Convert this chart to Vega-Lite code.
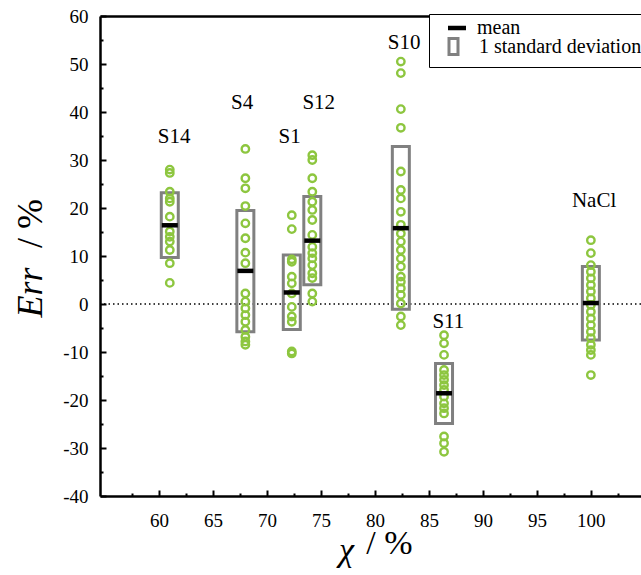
{
  "$schema": "https://vega.github.io/schema/vega-lite/v6.json",
  "width": 541,
  "height": 480,
  "autosize": {"type": "none"},
  "padding": {"left": 100, "top": 16, "right": 0, "bottom": 79},
  "background": "white",
  "config": {
    "view": {"stroke": null},
    "font": "Liberation Serif",
    "axis": {
      "labelFont": "Liberation Serif",
      "titleFont": "Liberation Serif",
      "grid": false,
      "domainColor": "black",
      "tickColor": "black",
      "labelColor": "black",
      "titleColor": "black",
      "domainWidth": 2.5,
      "tickWidth": 2
    },
    "legend": {
      "labelFont": "Liberation Serif",
      "labelFontSize": 20,
      "labelColor": "black",
      "labelLimit": 0,
      "titleFont": "Liberation Serif"
    }
  },
  "datasets": {
    "pts": [
      {"group": "S14", "chi": 61, "err": 28.0}, {"group": "S14", "chi": 61, "err": 27.3}, {"group": "S14", "chi": 61, "err": 23.4}, {"group": "S14", "chi": 61, "err": 22.0}, {"group": "S14", "chi": 61, "err": 21.3}, {"group": "S14", "chi": 61, "err": 18.2}, {"group": "S14", "chi": 61, "err": 15.1}, {"group": "S14", "chi": 61, "err": 14.0}, {"group": "S14", "chi": 61, "err": 13.0}, {"group": "S14", "chi": 61, "err": 11.25}, {"group": "S14", "chi": 61, "err": 8.5}, {"group": "S14", "chi": 61, "err": 4.4},
      {"group": "S4", "chi": 68, "err": 32.3}, {"group": "S4", "chi": 68, "err": 26.2}, {"group": "S4", "chi": 68, "err": 24.1}, {"group": "S4", "chi": 68, "err": 20.4}, {"group": "S4", "chi": 68, "err": 16.8}, {"group": "S4", "chi": 68, "err": 13.7}, {"group": "S4", "chi": 68, "err": 10.7}, {"group": "S4", "chi": 68, "err": 8.5}, {"group": "S4", "chi": 68, "err": 2.2}, {"group": "S4", "chi": 68, "err": 0.5}, {"group": "S4", "chi": 68, "err": -0.9}, {"group": "S4", "chi": 68, "err": -2.3}, {"group": "S4", "chi": 68, "err": -3.7}, {"group": "S4", "chi": 68, "err": -5.4}, {"group": "S4", "chi": 68, "err": -6.8}, {"group": "S4", "chi": 68, "err": -7.8}, {"group": "S4", "chi": 68, "err": -8.5},
      {"group": "S1", "chi": 72.3, "err": 18.5}, {"group": "S1", "chi": 72.3, "err": 15.6}, {"group": "S1", "chi": 72.3, "err": 9.3}, {"group": "S1", "chi": 72.3, "err": 8.8}, {"group": "S1", "chi": 72.3, "err": 5.7}, {"group": "S1", "chi": 72.3, "err": 4.3}, {"group": "S1", "chi": 72.3, "err": 2.2}, {"group": "S1", "chi": 72.3, "err": -0.6}, {"group": "S1", "chi": 72.3, "err": -2.6}, {"group": "S1", "chi": 72.3, "err": -3.7}, {"group": "S1", "chi": 72.3, "err": -9.9}, {"group": "S1", "chi": 72.3, "err": -10.3},
      {"group": "S12", "chi": 74.2, "err": 31.0}, {"group": "S12", "chi": 74.2, "err": 30.0}, {"group": "S12", "chi": 74.2, "err": 26.2}, {"group": "S12", "chi": 74.2, "err": 23.4}, {"group": "S12", "chi": 74.2, "err": 21.3}, {"group": "S12", "chi": 74.2, "err": 19.6}, {"group": "S12", "chi": 74.2, "err": 17.5}, {"group": "S12", "chi": 74.2, "err": 14.4}, {"group": "S12", "chi": 74.2, "err": 11.9}, {"group": "S12", "chi": 74.2, "err": 10.6}, {"group": "S12", "chi": 74.2, "err": 9.5}, {"group": "S12", "chi": 74.2, "err": 8.1}, {"group": "S12", "chi": 74.2, "err": 6.4}, {"group": "S12", "chi": 74.2, "err": 5.4}, {"group": "S12", "chi": 74.2, "err": 2.2}, {"group": "S12", "chi": 74.2, "err": 0.5},
      {"group": "S10", "chi": 82.4, "err": 50.5}, {"group": "S10", "chi": 82.4, "err": 48.1}, {"group": "S10", "chi": 82.4, "err": 40.6}, {"group": "S10", "chi": 82.4, "err": 36.7}, {"group": "S10", "chi": 82.4, "err": 27.6}, {"group": "S10", "chi": 82.4, "err": 23.75}, {"group": "S10", "chi": 82.4, "err": 22.0}, {"group": "S10", "chi": 82.4, "err": 19.2}, {"group": "S10", "chi": 82.4, "err": 16.5}, {"group": "S10", "chi": 82.4, "err": 14.7}, {"group": "S10", "chi": 82.4, "err": 13.0}, {"group": "S10", "chi": 82.4, "err": 11.25}, {"group": "S10", "chi": 82.4, "err": 9.5}, {"group": "S10", "chi": 82.4, "err": 7.8}, {"group": "S10", "chi": 82.4, "err": 5.7}, {"group": "S10", "chi": 82.4, "err": 4.65}, {"group": "S10", "chi": 82.4, "err": 3.3}, {"group": "S10", "chi": 82.4, "err": 1.9}, {"group": "S10", "chi": 82.4, "err": 0.1}, {"group": "S10", "chi": 82.4, "err": -2.6}, {"group": "S10", "chi": 82.4, "err": -4.4},
      {"group": "S11", "chi": 86.4, "err": -6.5}, {"group": "S11", "chi": 86.4, "err": -8.2}, {"group": "S11", "chi": 86.4, "err": -10.6}, {"group": "S11", "chi": 86.4, "err": -13.75}, {"group": "S11", "chi": 86.4, "err": -14.8}, {"group": "S11", "chi": 86.4, "err": -15.8}, {"group": "S11", "chi": 86.4, "err": -16.9}, {"group": "S11", "chi": 86.4, "err": -17.9}, {"group": "S11", "chi": 86.4, "err": -19.3}, {"group": "S11", "chi": 86.4, "err": -20.7}, {"group": "S11", "chi": 86.4, "err": -21.7}, {"group": "S11", "chi": 86.4, "err": -22.8}, {"group": "S11", "chi": 86.4, "err": -27.6}, {"group": "S11", "chi": 86.4, "err": -29.0}, {"group": "S11", "chi": 86.4, "err": -30.8},
      {"group": "NaCl", "chi": 100, "err": 13.3}, {"group": "NaCl", "chi": 100, "err": 10.6}, {"group": "NaCl", "chi": 100, "err": 8.1}, {"group": "NaCl", "chi": 100, "err": 6.7}, {"group": "NaCl", "chi": 100, "err": 5.35}, {"group": "NaCl", "chi": 100, "err": 3.95}, {"group": "NaCl", "chi": 100, "err": 2.6}, {"group": "NaCl", "chi": 100, "err": 1.2}, {"group": "NaCl", "chi": 100, "err": -0.2}, {"group": "NaCl", "chi": 100, "err": -1.6}, {"group": "NaCl", "chi": 100, "err": -3.0}, {"group": "NaCl", "chi": 100, "err": -4.4}, {"group": "NaCl", "chi": 100, "err": -5.8}, {"group": "NaCl", "chi": 100, "err": -7.1}, {"group": "NaCl", "chi": 100, "err": -8.5}, {"group": "NaCl", "chi": 100, "err": -9.6}, {"group": "NaCl", "chi": 100, "err": -10.6}, {"group": "NaCl", "chi": 100, "err": -14.8}
    ],
    "stats": [
      {"group": "S14", "chi": 61, "mean": 16.4, "lo": 9.7, "hi": 23.2, "labelChi": 61.4, "labelErr": 34.8},
      {"group": "S4", "chi": 68, "mean": 6.9, "lo": -5.8, "hi": 19.5, "labelChi": 67.7, "labelErr": 41.9},
      {"group": "S1", "chi": 72.3, "mean": 2.4, "lo": -5.3, "hi": 10.2, "labelChi": 72.1, "labelErr": 34.8},
      {"group": "S12", "chi": 74.2, "mean": 13.2, "lo": 4.0, "hi": 22.4, "labelChi": 74.8, "labelErr": 41.9},
      {"group": "S10", "chi": 82.4, "mean": 15.8, "lo": -1.1, "hi": 32.8, "labelChi": 82.7, "labelErr": 54.4},
      {"group": "S11", "chi": 86.4, "mean": -18.6, "lo": -24.9, "hi": -12.4, "labelChi": 86.8, "labelErr": -3.75},
      {"group": "NaCl", "chi": 100, "mean": 0.2, "lo": -7.5, "hi": 7.8, "labelChi": 100.3, "labelErr": 21.5}
    ]
  },
  "resolve": {"axis": {"x": "independent", "y": "independent"}},
  "layer": [
    {
      "data": {"values": [{}]},
      "mark": {"type": "rule", "strokeDash": [1.5, 3], "strokeWidth": 1.3, "color": "black"},
      "encoding": {
        "y": {"datum": 0, "type": "quantitative", "scale": {"domain": [-40, 60], "nice": false, "zero": false}, "axis": null}
      }
    },
    {
      "data": {"name": "stats"},
      "mark": {"type": "bar", "filled": false, "strokeWidth": 3, "size": 17},
      "encoding": {
        "x": {"field": "chi", "type": "quantitative", "scale": {"domain": [55, 104.18], "nice": false, "zero": false},
              "axis": {"orient": "top", "labels": false, "ticks": false, "title": null, "domain": true, "domainWidth": 2.5}},
        "y": {"field": "lo", "type": "quantitative", "scale": {"domain": [-40, 60], "nice": false, "zero": false}, "axis": null},
        "y2": {"field": "hi"},
        "stroke": {"datum": "1 standard deviation", "type": "nominal",
                   "scale": {"domain": ["1 standard deviation"], "range": ["#808080"]},
                   "legend": {
                     "title": "\u00a0", "titleFontSize": 16, "titlePadding": 0,
                     "orient": "none", "legendX": 329, "legendY": -2, "direction": "vertical", "zindex": 0,
                     "padding": 6, "strokeColor": "black", "fillColor": "white",
                     "labelFont": "Liberation Serif", "labelFontSize": 20, "labelColor": "black", "labelLimit": 0,
                     "symbolSize": 324, "symbolOffset": 8, "labelOffset": 15, "symbolOpacity": 1,
                     "symbolType": "M-0.5,-0.89L0.5,-0.89L0.5,0.89L-0.5,0.89Z",
                     "symbolFillColor": "transparent", "symbolStrokeWidth": 3
                   }}
      }
    },
    {
      "data": {"name": "pts"},
      "mark": {"type": "point", "shape": "circle", "filled": false, "strokeWidth": 2.4, "size": 55, "color": "#8dc63f", "opacity": 1},
      "encoding": {
        "x": {"field": "chi", "type": "quantitative", "scale": {"domain": [55, 104.18], "nice": false, "zero": false},
              "axis": {"orient": "bottom", "values": [60, 65, 70, 75, 80, 85, 90, 95, 100], "tickSize": -6, "labelPadding": 21,
                       "labelExpr": "'' + datum.value",
                       "labelFontSize": 19, "domain": true, "title": "χ", "titleFontSize": 34, "titleFontStyle": "italic",
                       "titleFontWeight": "normal", "titleX": 246, "titleY": 54, "titleAlign": "center", "titleBaseline": "middle"}},
        "y": {"field": "err", "type": "quantitative", "scale": {"domain": [-40, 60], "nice": false, "zero": false},
              "axis": {"orient": "left", "values": [-40, -30, -20, -10, 0, 10, 20, 30, 40, 50, 60], "tickSize": -6, "labelPadding": 18,
                       "labelExpr": "'' + datum.value",
                       "labelFontSize": 19, "domain": true, "title": "Err", "titleFontSize": 36, "titleFontStyle": "italic",
                       "titleFontWeight": "normal", "titleAngle": -90, "titleX": -70, "titleY": 276, "titleAlign": "center", "titleBaseline": "middle"}}
      }
    },
    {
      "data": {"name": "stats"},
      "mark": {"type": "tick", "orient": "horizontal", "thickness": 4.5, "size": 16, "opacity": 1},
      "encoding": {
        "x": {"field": "chi", "type": "quantitative", "scale": {"domain": [55, 104.18], "nice": false, "zero": false}, "axis": null},
        "y": {"field": "mean", "type": "quantitative", "scale": {"domain": [-40, 60], "nice": false, "zero": false}, "axis": null},
        "fill": {"datum": "mean", "type": "nominal",
                 "scale": {"domain": ["mean"], "range": ["black"]},
                 "legend": {
                   "title": null, "orient": "none", "legendX": 329, "legendY": -4, "direction": "vertical", "zindex": 1,
                   "padding": 6,
                   "labelFont": "Liberation Serif", "labelFontSize": 20, "labelColor": "black", "labelLimit": 0,
                   "symbolSize": 324, "symbolOffset": 12, "labelOffset": 10, "symbolOpacity": 1,
                   "symbolType": "M-1,-0.25L1,-0.25L1,0.25L-1,0.25Z",
                   "symbolStrokeWidth": 0
                 }}
      }
    },
    {
      "data": {"name": "stats"},
      "mark": {"type": "text", "fontSize": 21, "font": "Liberation Serif", "align": "center", "baseline": "middle", "color": "black"},
      "encoding": {
        "x": {"field": "labelChi", "type": "quantitative", "scale": {"domain": [55, 104.18], "nice": false, "zero": false},
              "axis": {"orient": "bottom", "values": [57.5, 62.5, 67.5, 72.5, 77.5, 82.5, 87.5, 92.5, 97.5, 102.5], "tickSize": -3,
                       "labels": false, "domain": false, "title": "/ %", "titleFontSize": 34, "titleFontWeight": "normal",
                       "titleX": 289, "titleY": 47, "titleAlign": "center", "titleBaseline": "middle"}},
        "y": {"field": "labelErr", "type": "quantitative", "scale": {"domain": [-40, 60], "nice": false, "zero": false},
              "axis": {"orient": "left", "values": [-35, -25, -15, -5, 5, 15, 25, 35, 45, 55], "tickSize": -3,
                       "labels": false, "domain": false, "title": "/ %", "titleFontSize": 36, "titleFontWeight": "normal",
                       "titleAngle": -90, "titleX": -70, "titleY": 207, "titleAlign": "center", "titleBaseline": "middle"}},
        "text": {"field": "group", "type": "nominal"}
      }
    }
  ]
}
